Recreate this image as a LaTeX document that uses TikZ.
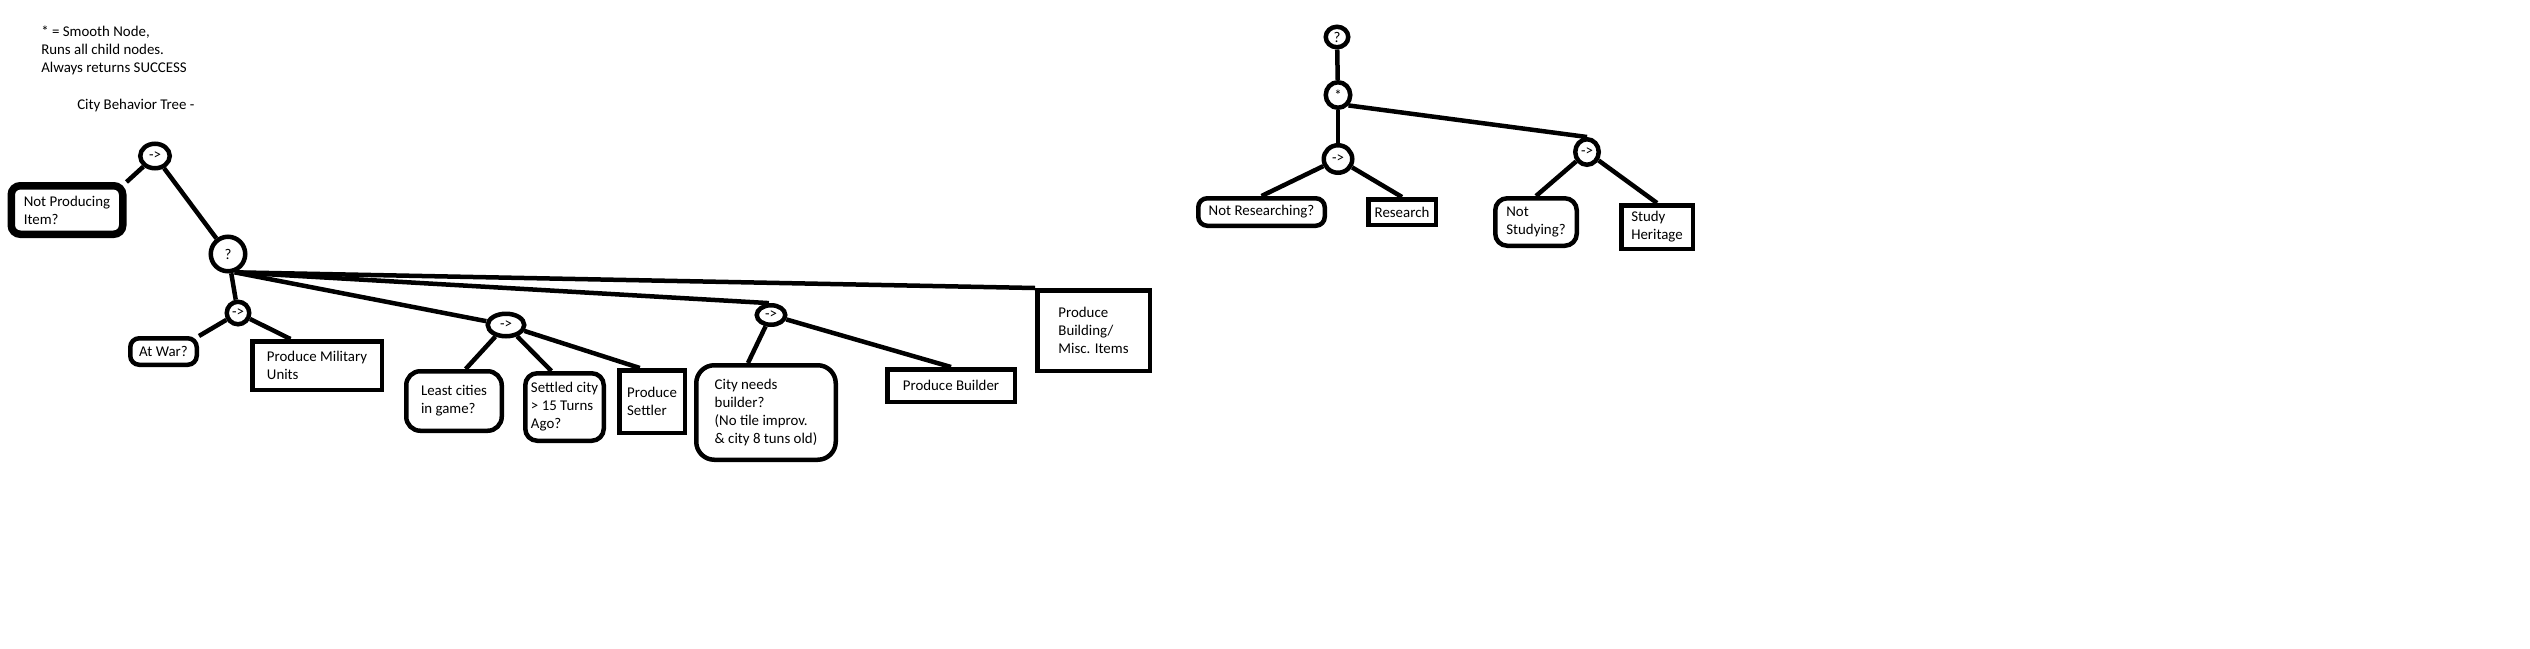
\documentclass[tikz,border=0pt]{standalone}
\usepackage{fontspec}
\setmainfont{Carlito}
\usetikzlibrary{shapes.geometric, positioning, calc}
\newlength{\px}
\setlength{\px}{0.7528pt}
\tikzstyle{ctrl} = [ellipse, draw, line width=4.5\px, inner sep=0pt]
\tikzstyle{cond} = [rectangle, draw, line width=4.5\px, rounded corners=9\px,
    align=left, inner sep=0pt]
\tikzstyle{action} = [rectangle, draw, line width=4.5\px, align=left, inner sep=0pt]
\tikzstyle{link} = [line width=4.5\px]
\tikzstyle{note} = [align=left, inner sep=0pt]

\begin{document}
\begin{tikzpicture}[x=\px, y=-\px, font=\fontsize{11.2}{13.6}\selectfont]
    \path[use as bounding box, fill=white] (0,0) rectangle (2530,648);

    % Legend and title
    \node [note, anchor=west] (legend) at (41,50)
        {* = Smooth Node,\\Runs all child nodes.\\Always returns SUCCESS};
    \node [note, anchor=base west] (title) at (77,109) {City Behavior Tree -};

    % City tree: control nodes
    \node [ctrl, minimum width=29.5\px, minimum height=24.5\px] (s1) at (155,156) {->};
    \node [ctrl, minimum width=34.5\px, minimum height=34.5\px] (q1) at (228,254) {?};
    \node [ctrl, minimum width=22.5\px, minimum height=22.5\px] (s2) at (238,313) {->};
    \node [ctrl, minimum width=36.5\px, minimum height=22.5\px] (s3) at (506,325) {->};
    \node [ctrl, minimum width=28.5\px, minimum height=19.5\px] (s4) at (771,315) {->};

    % City tree: conditions and actions
    \node [cond, line width=7.5\px, minimum width=111.5\px, minimum height=48.5\px]
        (npi) at (67,210) {Not Producing\\Item?};
    \node [cond, minimum width=66.5\px, minimum height=26.5\px] (atwar) at (163.5,351.5) {At War?};
    \node [action, minimum width=129.5\px, minimum height=48.5\px]
        (pmu) at (317,365.5) {Produce Military\\Units};
    \node [cond, rounded corners=14\px, minimum width=95.5\px, minimum height=59.5\px]
        (least) at (454,401) {Least cities\\in game?};
    \node [cond, rounded corners=12\px, minimum width=78.5\px, minimum height=67.5\px]
        (settled) at (564.5,407) {Settled city\\> 15 Turns\\Ago?};
    \node [action, minimum width=65.5\px, minimum height=62.5\px]
        (settler) at (652,401.5) {Produce\\Settler};
    \node [cond, rounded corners=18\px, minimum width=139.5\px, minimum height=94.5\px]
        (city) at (766,412.5) {City needs\\builder?\\(No tile improv.\\\& city 8 tuns old)};
    \node [action, minimum width=127.5\px, minimum height=32.5\px]
        (builder) at (951,385.5) {Produce Builder};
    \node [action, minimum width=112.5\px, minimum height=80.5\px]
        (building) at (1093.5,330.5) {Produce\\Building/\\Misc. Items};

    % Research tree
    \node [ctrl, minimum width=22.5\px, minimum height=20.5\px] (r1) at (1337,37) {?};
    \node [ctrl, minimum width=24.5\px, minimum height=25.5\px] (r2) at (1338,95) {*};
    \node [ctrl, minimum width=28.5\px, minimum height=27.5\px] (r3) at (1338,159) {->};
    \node [ctrl, minimum width=23.5\px, minimum height=25.5\px] (r4) at (1587,152) {->};
    \node [cond, minimum width=126.5\px, minimum height=27.5\px]
        (nr) at (1261.5,212) {Not Researching?};
    \node [action, minimum width=67.5\px, minimum height=25.5\px] (res) at (1402,212) {Research};
    \node [cond, rounded corners=12\px, minimum width=81.5\px, minimum height=47.5\px]
        (ns) at (1536,222) {Not\\Studying?};
    \node [action, minimum width=71.5\px, minimum height=43.5\px]
        (sh) at (1657,227) {Study\\Heritage};

    % City tree links
    \draw [link] (s1) -- (npi.north east);
    \draw [link] (s1) -- (q1);
    \draw [link] (q1) -- (s2);
    \draw [link] (s2) -- (atwar.north east);
    \draw [link] (s2) -- (pmu.135);
    \draw [link] (q1.-70) -- (s3);
    \draw [link] (s3) -- (least.70);
    \draw [link] (s3) -- (settled.110);
    \draw [link] (s3) -- (settler.110);
    \draw [link] (q1.-70) -- (s4.100);
    \draw [link] (q1.-70) -- (building.north west);
    \draw [link] (s4) -- (city.110);
    \draw [link] (s4) -- (builder.north);

    % Research tree links
    \draw [link] (r1) -- (r2);
    \draw [link] (r2) -- (r3);
    \draw [link] (r2.-45) -- (r4.north);
    \draw [link] (r3) -- (nr.north);
    \draw [link] (r3) -- (res.north);
    \draw [link] (r4) -- (ns.north);
    \draw [link] (r4) -- (sh.north);
\end{tikzpicture}
\end{document}
